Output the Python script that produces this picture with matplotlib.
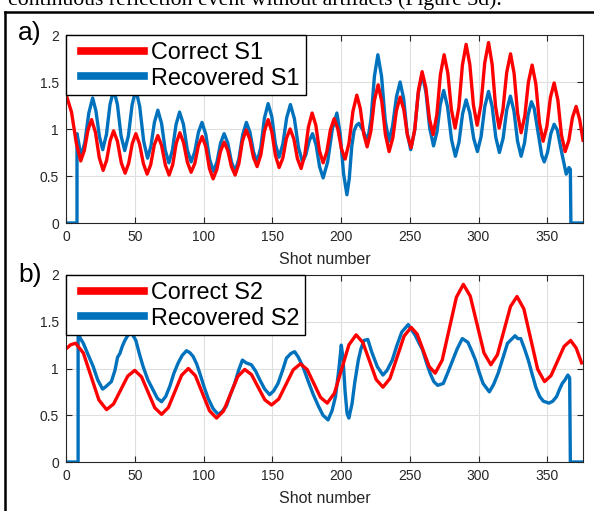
import matplotlib
matplotlib.use("Agg")
import matplotlib.pyplot as plt
from matplotlib.lines import Line2D
from matplotlib.legend_handler import HandlerLine2D

# Panel a) - Correct S1 (red)
s1_true_x = [0, 4, 7.5, 10.7, 13.3, 16.0, 18.6, 21.4, 24.2, 27, 29.5, 32.1, 34.6, 37.4, 40.2, 43,
             45.6, 48.2, 50.8, 53.5, 56.3, 59, 61.6, 64.2, 66.8, 69.5, 72.3, 75, 77.6, 80.2, 82.8,
             85.5, 88.3, 91, 93.7, 96.3, 99, 101.7, 104.3, 107, 109.7, 112.3, 115, 117.7, 120.3, 123,
             125.7, 128.3, 131, 133.7, 136.3, 139, 141.7, 144.3, 147, 149.7, 152.3, 155, 157.7, 160.3,
             163, 165.7, 168.3, 171, 173.7, 176.3, 179, 181.7, 184.3, 187, 189.7, 192.3, 195, 197.7,
             200.3, 203, 205.8, 208.7, 211.5, 214, 216.5, 219, 221.7, 224.3, 227, 229.7, 232.3, 235,
             237.7, 240.3, 243, 245.7, 248.3, 251, 253.7, 256.3, 259, 261.7, 264.3, 267, 269.7, 272.3,
             275, 277.7, 280.3, 283, 285.7, 288.3, 291, 293.7, 296.3, 299, 301.8, 304.5, 307.3, 309.9,
             312.4, 315, 317.8, 320.5, 323.3, 325.9, 328.4, 331, 333.7, 336.3, 339, 341.7, 344.3, 347,
             349.7, 352.3, 355, 357.7, 360.3, 363, 365.7, 368.3, 371, 373.6, 376]
s1_true_y = [1.37, 1.18, 0.85, 0.66, 0.77, 0.99, 1.10, 0.965, 0.695, 0.56, 0.665, 0.875, 0.98, 0.87, 0.64, 0.53,
             0.635, 0.845, 0.95, 0.84, 0.63, 0.52, 0.62, 0.83, 0.93, 0.825, 0.615, 0.51, 0.62, 0.85, 0.96,
             0.855, 0.645, 0.54, 0.635, 0.825, 0.92, 0.81, 0.58, 0.47, 0.57, 0.76, 0.86, 0.77, 0.60, 0.51,
             0.63, 0.87, 0.99, 0.89, 0.70, 0.60, 0.725, 0.975, 1.10, 0.97, 0.72, 0.59, 0.69, 0.90,
             1.00, 0.895, 0.685, 0.58, 0.73, 1.02, 1.17, 1.04, 0.77, 0.64, 0.76, 0.99, 1.11, 1.00,
             0.79, 0.68, 0.85, 1.19, 1.36, 1.22, 0.95, 0.81, 0.975, 1.305, 1.47, 1.29, 0.94, 0.76,
             0.905, 1.195, 1.34, 1.205, 0.935, 0.80, 1.00, 1.41, 1.61, 1.44, 1.11, 0.94, 1.15, 1.58,
             1.79, 1.595, 1.205, 1.01, 1.23, 1.68, 1.90, 1.685, 1.255, 1.04, 1.26, 1.70, 1.92, 1.69,
             1.24, 1.01, 1.21, 1.60, 1.80, 1.59, 1.17, 0.96, 1.14, 1.50, 1.68, 1.48, 1.07, 0.87,
             1.025, 1.335, 1.49, 1.31, 0.94, 0.76, 0.88, 1.12, 1.24, 1.10, 0.88]

# Panel a) - Recovered S1 (blue)
s1_rec_x = [0, 8, 8, 9.5, 10.9, 13.7, 16.6, 19.4, 21.8, 24.3, 26.7, 29.4, 32.0, 34.7, 37.4, 40.0, 42.7,
            45.4, 48.1, 50.8, 53.6, 56.5, 59.3, 61.8, 64.3, 66.8, 69.5, 72.1, 74.8, 77.4, 80.0, 82.6,
            85.4, 88.2, 91, 93.6, 96.3, 98.9, 101.7, 104.4, 107.2, 109.8, 112.4, 115, 117.7, 120.3, 123,
            125.7, 128.5, 131.2, 133.8, 136.4, 139, 141.7, 144.3, 147, 149.7, 152.3, 155, 157.7, 160.5,
            163.2, 166.1, 169.1, 172, 174.4, 176.9, 179.3, 181.9, 184.4, 187, 190.3, 193.7, 197, 199.4,
            201.9, 204.3, 206.0, 207.8, 209.5, 211.3, 213, 216.2, 219.3, 221.8, 224.3, 226.8, 229.5,
            232.1, 234.8, 237.5, 240.3, 243, 245.6, 248.1, 250.7, 253.5, 256.2, 259, 261.8, 264.5, 267.3,
            269.8, 272.2, 274.7, 277.5, 280.4, 283.2, 285.8, 288.4, 291, 293.7, 296.5, 299.2, 301.9,
            304.6, 307.3, 309.9, 312.6, 315.2, 317.9, 320.5, 323.2, 325.8, 328.4, 331, 333.5, 336.0,
            338.5, 340.5, 343.5, 346, 347.8, 350.2, 352.6, 355, 357.3, 360.5, 363.8, 365.8, 366.8,
            367.2, 376]
s1_rec_y = [0, 0, 0.95, 0.83, 0.70, 0.86, 1.17, 1.33, 1.19, 0.92, 0.78, 0.94, 1.26, 1.42, 1.26, 0.93, 0.77,
            0.93, 1.26, 1.42, 1.24, 0.87, 0.69, 0.82, 1.07, 1.20, 1.06, 0.78, 0.64, 0.775, 1.045, 1.18,
            1.05, 0.78, 0.65, 0.755, 0.965, 1.07, 0.94, 0.68, 0.55, 0.65, 0.85, 0.95, 0.85, 0.65, 0.55,
            0.68, 0.94, 1.07, 0.965, 0.755, 0.65, 0.805, 1.115, 1.27, 1.13, 0.84, 0.70, 0.84, 1.12,
            1.26, 1.11, 0.80, 0.65, 0.725, 0.875, 0.95, 0.83, 0.60, 0.48, 0.65, 1.00, 1.17, 0.95,
            0.52, 0.30, 0.47, 0.81, 0.98, 1.04, 1.06, 0.98, 0.87, 1.10, 1.56, 1.79, 1.56,
            1.10, 0.87, 1.03, 1.34, 1.50, 1.32, 0.96, 0.78, 0.98, 1.38, 1.58, 1.39, 1.01, 0.82,
            0.97, 1.26, 1.41, 1.235, 0.885, 0.71, 0.86, 1.16, 1.31, 1.17, 0.90, 0.76, 0.92,
            1.24, 1.40, 1.24, 0.91, 0.75, 0.90, 1.20, 1.35, 1.19, 0.87, 0.71, 0.855, 1.145,
            1.29, 1.22, 0.95, 0.72, 0.65, 0.75, 0.95, 1.05, 0.99, 0.75, 0.52, 0.59, 0.57,
            0, 0]

# Panel b) - Correct S2 (red)
s2_true_x = [0, 3.5, 7, 12.6, 18.25, 23.9, 29.5, 34.6, 39.75, 44.9, 50, 54.9, 59.75, 64.6, 69.5, 74.4,
             79.25, 84.1, 89, 94.1, 99.25, 104.4, 109.5, 114.6, 119.75, 124.9, 130, 134.9, 139.75,
             144.6, 149.5, 154.75, 160, 165.25, 170.5, 175.4, 180.25, 185.1, 190, 195.25, 200.5, 205.75,
             211, 215.9, 220.75, 225.6, 230.5, 235.6, 240.75, 245.9, 251, 255.4, 259.75, 264.1, 268.5,
             273.6, 278.75, 283.9, 289, 294, 299, 304, 309, 313.75, 318.5, 323.25, 328, 333, 338, 343,
             348, 352.75, 357.5, 362.25, 367, 371, 375]
s2_true_y = [1.21, 1.255, 1.27, 1.166, 0.915, 0.664, 0.56, 0.621, 0.77, 0.919, 0.98, 0.911, 0.745, 0.579, 0.51,
             0.582, 0.755, 0.928, 1.0, 0.923, 0.735, 0.547, 0.47, 0.546, 0.73, 0.914, 0.99, 0.935, 0.80,
             0.665, 0.61, 0.674, 0.83, 0.986, 1.05, 0.989, 0.84, 0.691, 0.63, 0.737, 0.995, 1.253,
             1.36, 1.278, 1.08, 0.882, 0.80, 0.893, 1.12, 1.347, 1.44, 1.368, 1.195, 1.022, 0.95,
             1.089, 1.425, 1.761, 1.90, 1.774, 1.47, 1.166, 1.04, 1.147, 1.405, 1.663, 1.77, 1.637,
             1.315, 0.993, 0.86, 0.924, 1.08, 1.236, 1.30, 1.22, 1.06]

# Panel b) - Recovered S2 (blue)
s2_rec_x = [0, 8.8, 8.8, 10.5, 12.6, 16, 19.8, 23, 26.6, 28.5, 30.7, 33, 35.6, 37.5, 39.2, 41, 42.8, 46,
            48.5, 50.8, 53.5, 56.1, 59.5, 63.4, 66.5, 69.5, 72.5, 75.5, 78.5, 81.6, 84.5, 87.6, 90,
            92.4, 95, 97.3, 100.5, 103.4, 107, 110.6, 113.5, 116.7, 119.5, 122.7, 125.5, 128.3, 131,
            134.8, 138, 140.9, 144.5, 148.1, 151, 154.2, 157.5, 160.3, 163.5, 166.3, 169, 172.3, 176,
            179.6, 183.5, 186.9, 190.6, 193.5, 196, 198.5, 200.2, 201.5, 203, 204.4, 205.7, 208, 210,
            212.6, 214.5, 216.7, 219.5, 222.5, 226.4, 230.5, 233.5, 237.3, 240.5, 244.2, 248.9, 251,
            253.8, 256.5, 259.3, 262, 264.8, 267.5, 270.3, 274.4, 277.5, 281.3, 284.5, 288.2, 292.3,
            295, 297.8, 300.5, 303.3, 307.9, 311, 314.3, 317.5, 321.1, 326.6, 328.5, 330.7, 333.5,
            336.2, 339, 341.7, 344.5, 347.2, 351.3, 354, 356.8, 359, 360.9, 363, 365, 366.3, 366.8, 376]
s2_rec_y = [0, 0, 1.38, 1.32, 1.27, 1.15, 1.02, 0.88, 0.78, 0.80, 0.83, 0.86, 0.98, 1.12, 1.16, 1.24, 1.30, 1.38,
            1.36, 1.30, 1.15, 1.02, 0.88, 0.77, 0.68, 0.645, 0.70, 0.81, 0.95, 1.06, 1.14, 1.19, 1.17,
            1.13, 1.05, 0.95, 0.80, 0.68, 0.57, 0.51, 0.54, 0.60, 0.72, 0.84, 0.98, 1.09, 1.06,
            1.04, 0.97, 0.88, 0.78, 0.72, 0.76, 0.84, 0.98, 1.11, 1.16, 1.18, 1.12, 1.02, 0.87,
            0.73, 0.60, 0.50, 0.45, 0.55, 0.70, 1.00, 1.25, 1.10, 0.75, 0.52, 0.47, 0.62, 0.85,
            1.09, 1.21, 1.30, 1.31, 1.17, 1.02, 0.93, 0.98, 1.09, 1.24, 1.39, 1.47, 1.42,
            1.36, 1.28, 1.20, 1.07, 0.95, 0.86, 0.82, 0.84, 0.95, 1.09, 1.21, 1.32, 1.28,
            1.19, 1.09, 0.96, 0.84, 0.75, 0.83, 0.95, 1.10, 1.27, 1.35, 1.32, 1.32, 1.21,
            1.09, 0.94, 0.80, 0.70, 0.65, 0.63, 0.65, 0.70, 0.78, 0.84, 0.88, 0.93, 0.90, 0, 0]

xticks = [0, 50, 100, 150, 200, 250, 300, 350]
yticks = [0, 0.5, 1, 1.5, 2]
ytick_labels = ["0", "0.5", "1", "1.5", "2"]

red = "#ff0000"
blue = "#0072bd"
dark = "#262626"

plt.rcParams['font.family'] = ['Liberation Sans', 'DejaVu Sans']

W, H = 594, 511
fig = plt.figure(figsize=(W / 100, H / 100), dpi=100)


def frac_box(left, top, right, bottom):
    return [left / W, 1 - bottom / H, (right - left) / W, (bottom - top) / H]


panels = [
    (frac_box(66, 35, 583, 223), s1_true_x, s1_true_y, s1_rec_x, s1_rec_y,
     "Correct S1", "Recovered S1", "a)", 40),
    (frac_box(66, 275, 583, 462), s2_true_x, s2_true_y, s2_rec_x, s2_rec_y,
     "Correct S2", "Recovered S2", "b)", 282),
]

for box, tx, ty, rx, ry, lab1, lab2, tag, tag_y in panels:
    ax = fig.add_axes(box)
    ax.plot(rx, ry, color=blue, lw=2.4, solid_joinstyle='round')
    ax.plot(tx, ty, color=red, lw=2.4, solid_joinstyle='round')
    ax.set_xlim(0, 376)
    ax.set_ylim(0, 2)
    ax.set_xticks(xticks)
    ax.set_yticks(yticks)
    ax.set_yticklabels(ytick_labels)
    ax.grid(True, color="#dfdfdf", lw=0.8)
    ax.set_axisbelow(True)
    ax.tick_params(direction='in', top=True, right=True, length=4, width=0.8,
                   labelsize=10, colors=dark, pad=5)
    for sp in ax.spines.values():
        sp.set_color(dark)
        sp.set_linewidth(0.8)
    ax.set_xlabel("Shot number", fontsize=11.5, color=dark, labelpad=6)
    handles = [Line2D([0], [0], color=red, lw=5.5), Line2D([0], [0], color=blue, lw=5.5)]
    leg = ax.legend(handles, [lab1, lab2], loc='upper left', bbox_to_anchor=(0, 1),
                    borderaxespad=0, fontsize=16.8, handlelength=3.1, handletextpad=0.3,
                    labelspacing=0.12, borderpad=0.25, fancybox=False, framealpha=1,
                    edgecolor='black',
                    handler_map={Line2D: HandlerLine2D(xpad=0.4)})
    leg.get_frame().set_linewidth(1.0)
    fig.text(18 / W, 1 - tag_y / H, tag, fontsize=19, color='black', va='baseline', ha='left')

# caption line of the page above the figure, cut off at the top
fig.text(8 / W, 1 - 5 / H, "continuous reflection event without artifacts (Figure 3d).",
         fontsize=15.7, family='Liberation Serif', va='baseline', ha='left')

# page frame around the figure
fig.add_artist(Line2D([5 / W, 1], [1 - 12 / H, 1 - 12 / H], color='black', lw=1.8))
fig.add_artist(Line2D([5 / W, 5 / W], [0, 1 - 12 / H], color='black', lw=1.8))

fig.savefig("out.png", dpi=100)
